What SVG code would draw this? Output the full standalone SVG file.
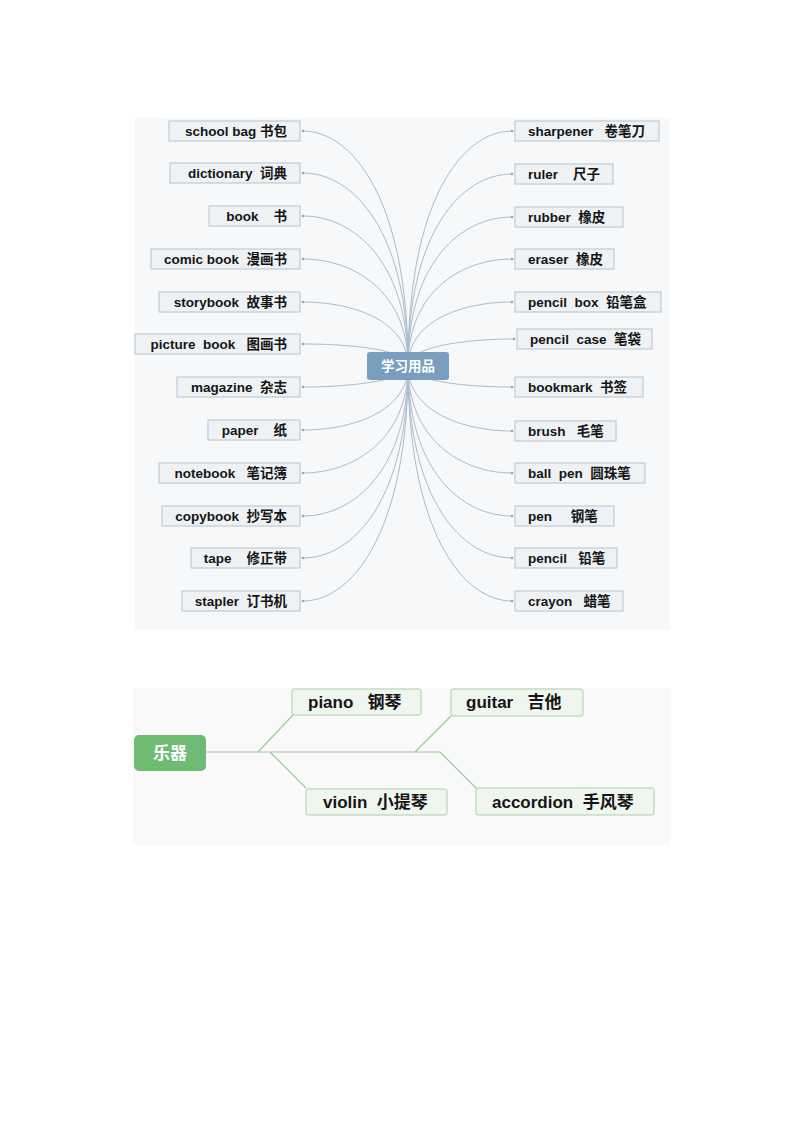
<svg xmlns="http://www.w3.org/2000/svg" width="800" height="1132" viewBox="0 0 800 1132">
<style>
text{font-family:"Liberation Sans","Noto Sans CJK SC",sans-serif;font-weight:bold;white-space:pre;fill:#151515}
.n rect{fill:#eef2f5;stroke:#b7c3cc;stroke-width:1}
.t{font-size:13.5px}
.l{text-anchor:end}
.c path{fill:none;stroke:#aabdcb;stroke-width:1}
.c circle{fill:#95a7b6}
.g rect{fill:#eef6ee;stroke:#a9cfa9;stroke-width:1}
.g text{font-size:17px}
.gc line{stroke:#9ccb9c;stroke-width:1.2}
</style>
<rect x="0" y="0" width="800" height="1132" fill="#ffffff"/>
<rect x="135" y="118" width="535" height="512" fill="#f6f8fa"/>
<rect x="133" y="688" width="537" height="157" fill="#f8f9f8"/>

<g id="connectors" class="c">
<path d="M303,131 C353,131 408,201 408,366"/>
<path d="M303,173 C353,173 408,231 408,366"/>
<path d="M303,216 C353,216 408,261 408,366"/>
<path d="M303,259 C353,259 408,291 408,366"/>
<path d="M303,302 C353,302 408,321 408,366"/>
<path d="M303,344 C353,344 408,350 408,366"/>
<path d="M303,387 C353,387 408,380 408,366"/>
<path d="M303,430 C353,430 408,411 408,366"/>
<path d="M303,473 C353,473 408,440 408,366"/>
<path d="M303,516 C353,516 408,471 408,366"/>
<path d="M303,558 C353,558 408,500 408,366"/>
<path d="M303,601 C353,601 408,530 408,366"/>
<path d="M512,131 C462,131 408,201 408,366"/>
<path d="M512,174 C462,174 408,231 408,366"/>
<path d="M512,217 C462,217 408,261 408,366"/>
<path d="M512,259 C462,259 408,291 408,366"/>
<path d="M512,302 C462,302 408,321 408,366"/>
<path d="M514,339 C464,339 408,347 408,366"/>
<path d="M512,387 C462,387 408,380 408,366"/>
<path d="M512,431 C462,431 408,411 408,366"/>
<path d="M512,473 C462,473 408,440 408,366"/>
<path d="M512,516 C462,516 408,471 408,366"/>
<path d="M512,558 C462,558 408,500 408,366"/>
<path d="M512,601 C462,601 408,530 408,366"/>
<circle cx="303" cy="131" r="1.3"/><circle cx="303" cy="173" r="1.3"/><circle cx="303" cy="216" r="1.3"/>
<circle cx="303" cy="259" r="1.3"/><circle cx="303" cy="302" r="1.3"/><circle cx="303" cy="344" r="1.3"/>
<circle cx="303" cy="387" r="1.3"/><circle cx="303" cy="430" r="1.3"/><circle cx="303" cy="473" r="1.3"/>
<circle cx="303" cy="516" r="1.3"/><circle cx="303" cy="558" r="1.3"/><circle cx="303" cy="601" r="1.3"/>
<circle cx="512" cy="131" r="1.3"/><circle cx="512" cy="174" r="1.3"/><circle cx="512" cy="217" r="1.3"/>
<circle cx="512" cy="259" r="1.3"/><circle cx="512" cy="302" r="1.3"/><circle cx="514" cy="339" r="1.3"/>
<circle cx="512" cy="387" r="1.3"/><circle cx="512" cy="431" r="1.3"/><circle cx="512" cy="473" r="1.3"/>
<circle cx="512" cy="516" r="1.3"/><circle cx="512" cy="558" r="1.3"/><circle cx="512" cy="601" r="1.3"/>
</g>

<g id="center">
<rect x="367" y="352" width="82" height="28" rx="3" fill="#7a9fbe"/>
<text x="408" y="370.5" text-anchor="middle" style="font-size:13.5px;fill:#ffffff">学习用品</text>
</g>

<g id="n-schoolbag" class="n"><rect x="169" y="121" width="131" height="20"/><text class="t l" x="287" y="135.5">school bag 书包</text></g>
<g id="n-dictionary" class="n"><rect x="170" y="163" width="130" height="20"/><text class="t l" x="287" y="177.5">dictionary  词典</text></g>
<g id="n-book" class="n"><rect x="209" y="206" width="91" height="20"/><text class="t l" x="287" y="220.5">book    书</text></g>
<g id="n-comicbook" class="n"><rect x="151" y="249" width="149" height="20"/><text class="t l" x="287" y="263.5">comic book  漫画书</text></g>
<g id="n-storybook" class="n"><rect x="159" y="292" width="141" height="20"/><text class="t l" x="287" y="306.5">storybook  故事书</text></g>
<g id="n-picturebook" class="n"><rect x="135" y="334" width="165" height="20"/><text class="t l" x="287" y="348.5">picture  book   图画书</text></g>
<g id="n-magazine" class="n"><rect x="177" y="377" width="123" height="20"/><text class="t l" x="287" y="391.5">magazine  杂志</text></g>
<g id="n-paper" class="n"><rect x="208" y="420" width="92" height="20"/><text class="t l" x="287" y="434.5">paper    纸</text></g>
<g id="n-notebook" class="n"><rect x="159" y="463" width="141" height="20"/><text class="t l" x="287" y="477.5">notebook   笔记簿</text></g>
<g id="n-copybook" class="n"><rect x="162" y="506" width="138" height="20"/><text class="t l" x="287" y="520.5">copybook  抄写本</text></g>
<g id="n-tape" class="n"><rect x="191" y="548" width="109" height="20"/><text class="t l" x="287" y="562.5">tape    修正带</text></g>
<g id="n-stapler" class="n"><rect x="182" y="591" width="118" height="20"/><text class="t l" x="287" y="605.5">stapler  订书机</text></g>

<g id="n-sharpener" class="n"><rect x="515" y="121" width="144" height="20"/><text class="t" x="528" y="135.5">sharpener   卷笔刀</text></g>
<g id="n-ruler" class="n"><rect x="515" y="164" width="98" height="20"/><text class="t" x="528" y="178.5">ruler    尺子</text></g>
<g id="n-rubber" class="n"><rect x="515" y="207" width="108" height="20"/><text class="t" x="528" y="221.5">rubber  橡皮</text></g>
<g id="n-eraser" class="n"><rect x="515" y="249" width="99" height="20"/><text class="t" x="528" y="263.5">eraser  橡皮</text></g>
<g id="n-pencilbox" class="n"><rect x="515" y="292" width="146" height="20"/><text class="t" x="528" y="306.5">pencil  box  铅笔盒</text></g>
<g id="n-pencilcase" class="n"><rect x="517" y="329" width="135" height="20"/><text class="t" x="530" y="343.5">pencil  case  笔袋</text></g>
<g id="n-bookmark" class="n"><rect x="515" y="377" width="128" height="20"/><text class="t" x="528" y="391.5">bookmark  书签</text></g>
<g id="n-brush" class="n"><rect x="515" y="421" width="101" height="20"/><text class="t" x="528" y="435.5">brush   毛笔</text></g>
<g id="n-ballpen" class="n"><rect x="515" y="463" width="130" height="20"/><text class="t" x="528" y="477.5">ball  pen  圆珠笔</text></g>
<g id="n-pen" class="n"><rect x="515" y="506" width="99" height="20"/><text class="t" x="528" y="520.5">pen     钢笔</text></g>
<g id="n-pencil" class="n"><rect x="515" y="548" width="102" height="20"/><text class="t" x="528" y="562.5">pencil   铅笔</text></g>
<g id="n-crayon" class="n"><rect x="515" y="591" width="108" height="20"/><text class="t" x="528" y="605.5">crayon   蜡笔</text></g>

<g id="connectors-music" class="gc">
<line x1="206" y1="752" x2="440" y2="752"/>
<line x1="258" y1="752" x2="293" y2="715"/>
<line x1="270" y1="752" x2="306" y2="788"/>
<line x1="415" y1="752" x2="451" y2="716"/>
<line x1="440" y1="752" x2="476" y2="788"/>
</g>

<g id="music">
<rect x="134" y="735" width="72" height="36" rx="5" fill="#6fbb74"/>
<text x="170" y="759" text-anchor="middle" style="font-size:17px;fill:#ffffff">乐器</text>
</g>
<g id="n-piano" class="g"><rect x="292" y="689" width="129" height="26" rx="2"/><text x="308" y="708">piano   钢琴</text></g>
<g id="n-guitar" class="g"><rect x="451" y="689" width="132" height="27" rx="2"/><text x="466" y="708">guitar   吉他</text></g>
<g id="n-violin" class="g"><rect x="306" y="789" width="141" height="26" rx="2"/><text x="323" y="808">violin  小提琴</text></g>
<g id="n-accordion" class="g"><rect x="476" y="788" width="178" height="27" rx="2"/><text x="492" y="807.5">accordion  手风琴</text></g>
</svg>
